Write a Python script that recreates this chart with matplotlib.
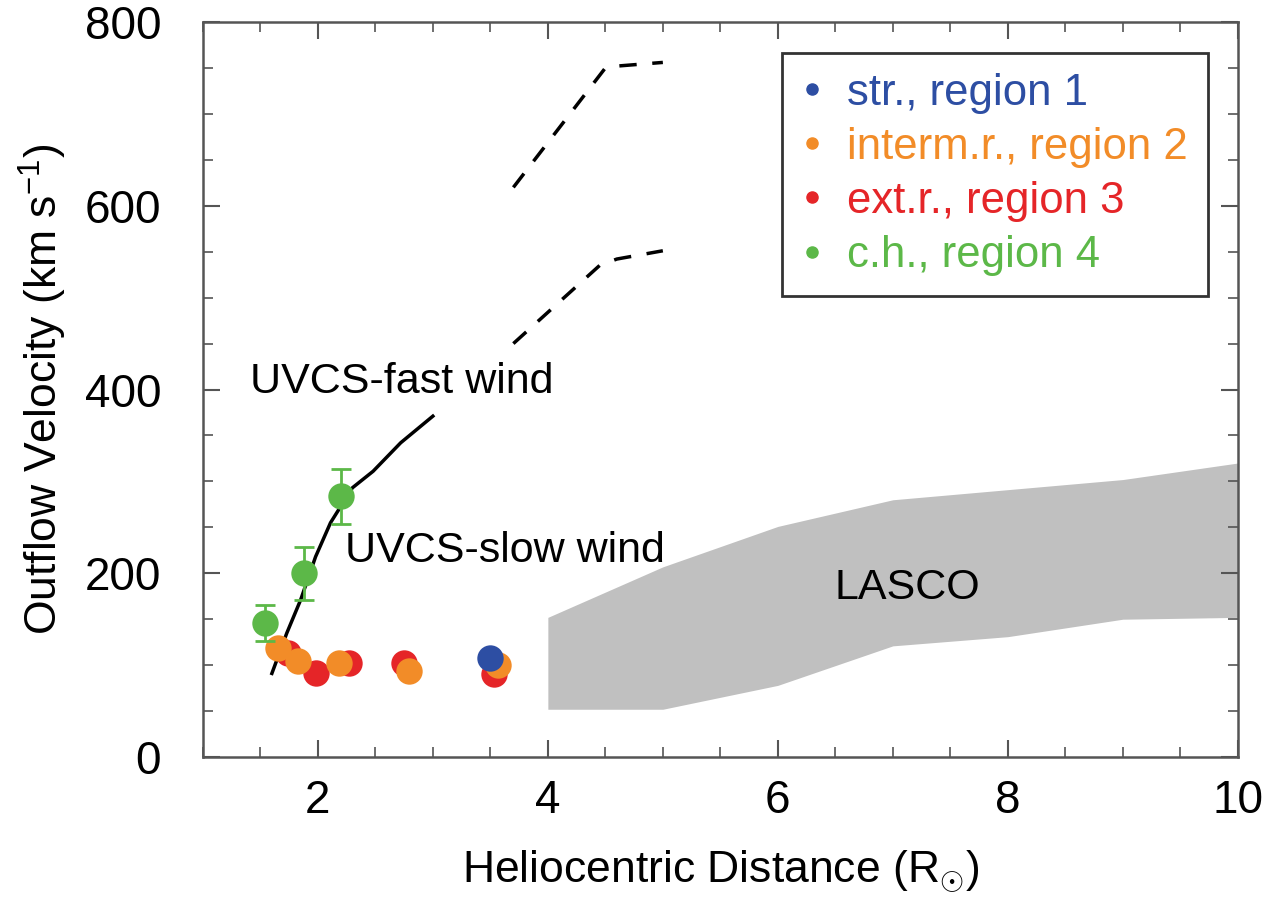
import numpy as np
import matplotlib.pyplot as plt
from matplotlib.ticker import MultipleLocator

plt.rcParams['font.family'] = ['Liberation Sans', 'DejaVu Sans']
plt.rcParams['mathtext.fontset'] = 'custom'
plt.rcParams['mathtext.rm'] = 'Liberation Sans'

# Datos
x_str = [3.50]
v_str = [108]

x_int = [1.65, 1.83, 2.18, 2.79, 3.57]
v_int = [119, 105, 102, 94, 100]

x_ext = [1.74, 1.98, 2.27, 2.75, 3.53]
v_ext = [113, 91, 102, 102, 90]

x_ch = [1.54, 1.88, 2.20]
v_ch = [146, 200, 284]
err_ch = [20, 29, 30]

# Curva UVCS viento rápido (sólida) y extrapolaciones (discontinuas)
x_fast = [1.60, 1.73, 1.85, 1.98, 2.11, 2.30, 2.48, 2.72, 3.00]
v_fast = [91, 135, 171, 218, 255, 293, 311, 342, 371]

x_dash_hi = [3.70, 4.50, 4.60, 5.00]
v_dash_hi = [620, 750, 752, 756]
x_dash_lo = [3.70, 4.45, 4.60, 5.00]
v_dash_lo = [450, 535, 542, 551]

# Banda LASCO
x_lasco = [4.0, 5.0, 6.0, 7.0, 8.0, 9.0, 10.0]
v_lasco_hi = [152, 207, 251, 280, 291, 302, 320]
v_lasco_lo = [52, 52, 78, 121, 131, 150, 152]

c_blue = '#2d4ea3'
c_orange = '#f28c28'
c_red = '#e52528'
c_green = '#5cb848'

fig = plt.figure(figsize=(12.68, 9.05), dpi=100)
ax = fig.add_axes([0.160, 0.1635, 0.8162, 0.8122])

ax.fill_between(x_lasco, v_lasco_lo, v_lasco_hi, color='#c0c0c0', lw=0, zorder=1)

ax.plot(x_fast, v_fast, color='black', lw=2.5, zorder=2)
ax.plot(x_dash_hi, v_dash_hi, color='black', lw=2.5, ls=(0, (5, 4.5)), zorder=2)
ax.plot(x_dash_lo, v_dash_lo, color='black', lw=2.5, ls=(0, (5, 4.5)), zorder=2)

ms = 19
ax.plot(x_ext, v_ext, 'o', color=c_red, ms=ms, mec='none', zorder=3)
ax.plot(x_int, v_int, 'o', color=c_orange, ms=ms, mec='none', zorder=4)
ax.plot(x_str, v_str, 'o', color=c_blue, ms=ms, mec='none', zorder=5)
ax.errorbar(x_ch, v_ch, yerr=err_ch, fmt='o', color=c_green, ms=ms, mec='none',
            elinewidth=2, capsize=7, capthick=2, zorder=5)

# Leyenda con texto coloreado
h1, = ax.plot([], [], 'o', color=c_blue, ms=8, label='str., region 1')
h2, = ax.plot([], [], 'o', color=c_orange, ms=8, label='interm.r., region 2')
h3, = ax.plot([], [], 'o', color=c_red, ms=8, label='ext.r., region 3')
h4, = ax.plot([], [], 'o', color=c_green, ms=8, label='c.h., region 4')
leg = ax.legend(handles=[h1, h2, h3, h4], loc='upper right',
                bbox_to_anchor=(0.971, 0.958), fontsize=31.5, frameon=True,
                fancybox=False, edgecolor='black', handlelength=0.5,
                handletextpad=0.55, labelspacing=0.3, borderpad=0.45,
                borderaxespad=0, labelcolor=[c_blue, c_orange, c_red, c_green])
leg.get_frame().set_linewidth(2)

ax.text(1.41, 408, 'UVCS-fast wind', fontsize=31, va='center', ha='left')
ax.text(2.24, 224, 'UVCS-slow wind', fontsize=31, va='center', ha='left')
ax.text(7.13, 184, 'LASCO', fontsize=31, va='center', ha='center')

ax.set_xlim(1, 10)
ax.set_ylim(0, 800)
ax.xaxis.set_major_locator(MultipleLocator(2))
ax.xaxis.set_minor_locator(MultipleLocator(0.5))
ax.yaxis.set_major_locator(MultipleLocator(200))
ax.yaxis.set_minor_locator(MultipleLocator(50))
ax.tick_params(which='both', direction='in', top=True, right=True,
               labelsize=33, color='#555555')
ax.tick_params(which='major', length=12, width=1.5)
ax.tick_params(axis='y', which='major', pad=30)
ax.tick_params(axis='x', which='major', pad=16)
ax.tick_params(which='minor', length=7, width=1.2)
for s in ax.spines.values():
    s.set_color('#555555')
    s.set_linewidth(1.8)

ax.set_xlabel(r'Heliocentric Distance (R$_{\odot}$)', fontsize=32, labelpad=18)
ax.set_ylabel(r'Outflow Velocity (km s$^{-1}$)', fontsize=32, labelpad=11)

fig.savefig('out.png', dpi=100)
